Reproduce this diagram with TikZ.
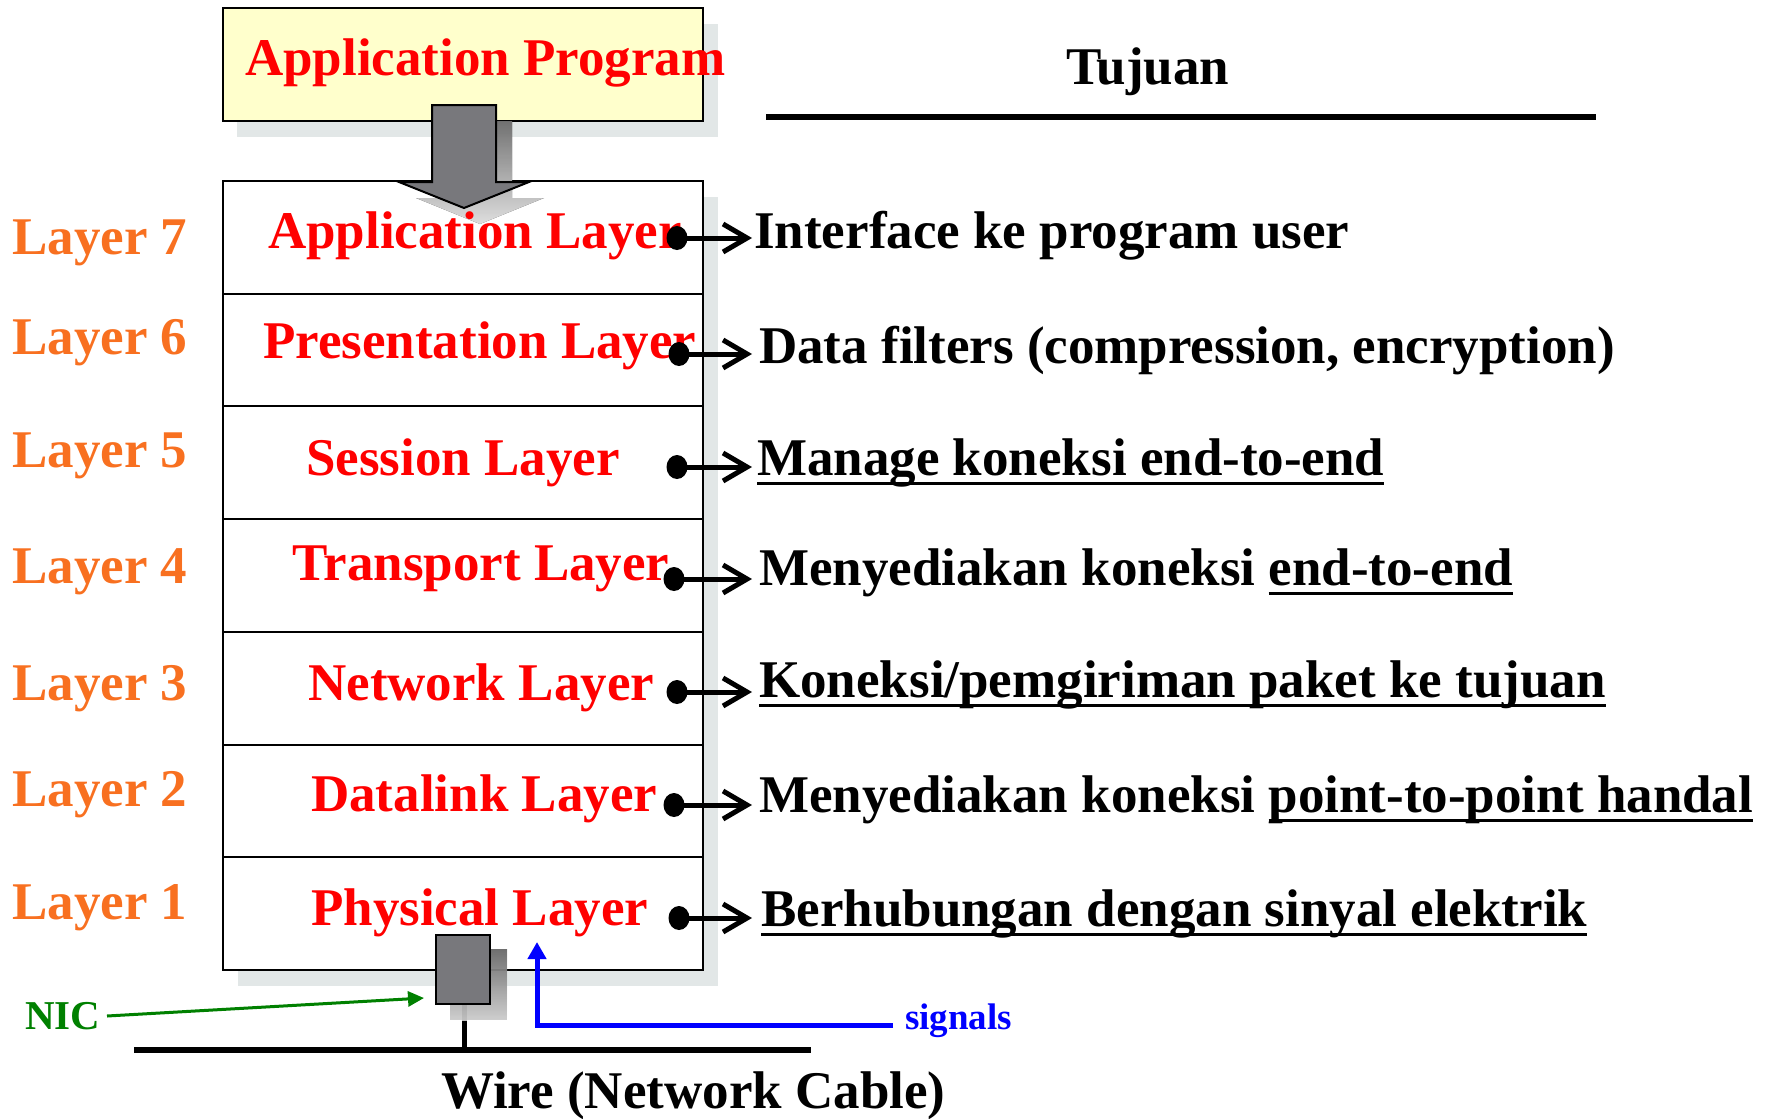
\documentclass[tikz,border=0pt]{standalone}
\usepackage{fontspec}
\setmainfont{Liberation Serif}
\usetikzlibrary{arrows.meta,shapes.geometric}
\definecolor{layerorange}{RGB}{248,112,32}
\definecolor{progyellow}{RGB}{255,255,204}
\definecolor{shade}{RGB}{226,231,231}
\definecolor{blockgray}{RGB}{120,120,124}
\definecolor{nicgreen}{RGB}{0,128,0}
\newlength\ulwidth
\newcommand\ulpart[1]{\settowidth\ulwidth{#1}\rlap{\rule[-9.5pt]{\ulwidth}{3pt}}#1}
\newcommand\bigfont{\fontsize{53}{60}\selectfont\bfseries}
\begin{document}
\begin{tikzpicture}[x=1pt,y=-1pt,
  txt/.style={inner sep=0pt, anchor=base west, font=\bigfont},
  layerlbl/.style={txt, text=layerorange},
  layername/.style={txt, text=red},
  purpose/.style={txt, text=black},
  rowbox/.style={draw, line width=2pt, fill=white, anchor=north west,
    minimum width=480pt, minimum height=112.7pt, inner sep=0pt},
  dot/.style={ellipse, fill=black, inner sep=0pt, minimum width=21pt, minimum height=24pt},
  link/.style={line width=5pt, -{Straight Barb[length=24pt,width=28pt,line width=5pt]}},
  shadowbox/.style={fill=shade}
]
\useasboundingbox (0,0) rectangle (1775,1119);

% drop shadows of the two boxes
\fill[shadowbox] (238,197) rectangle (718,986);
\fill[shadowbox] (237,24) rectangle (718,137);

% application program box
\node[draw, line width=2pt, fill=progyellow, anchor=north west, inner sep=0pt,
  minimum width=480pt, minimum height=113pt] (prog) at (222,7) {};
\node[txt, text=red] (progtxt) at (245,75) {Application Program};

% protocol stack rows
\foreach \i/\t in {7/180,6/292.7,5/405.4,4/518.1,3/630.8,2/743.5,1/856.2}
  \node[rowbox] (row\i) at (222,\t) {};

% block arrow from program into the stack
\fill[shade, opacity=0.85] (448,121) -- (512,121) -- (512,198) -- (544,198) -- (480,224)
  -- (416,198) -- (448,198) -- cycle;
\draw[line width=2pt, fill=blockgray, line join=miter] (432,105) -- (496,105) -- (496,182)
  -- (529,182) -- (464,208) -- (399,182) -- (432,182) -- cycle;

% NIC with its stub to the wire
\coordinate (stubtop) at (464,1003);
\coordinate (stubbot) at (464,1050);
\draw[line width=5pt] (stubtop) -- (stubbot);
\fill[shade, opacity=0.75] (450,949) rectangle (507,1020);
\node[draw, line width=2pt, fill=blockgray, anchor=north west, inner sep=0pt,
  minimum width=54pt, minimum height=69pt] (nicbox) at (435,934) {};

% layer numbers
\node[layerlbl] (l7) at (12,254) {Layer 7};
\node[layerlbl] (l6) at (12,354) {Layer 6};
\node[layerlbl] (l5) at (12,467) {Layer 5};
\node[layerlbl] (l4) at (12,583) {Layer 4};
\node[layerlbl] (l3) at (12,700) {Layer 3};
\node[layerlbl] (l2) at (12,806) {Layer 2};
\node[layerlbl] (l1) at (12,919) {Layer 1};

% layer names
\node[layername] (n7) at (268,248) {Application Layer};
\node[layername] (n6) at (263,358) {Presentation Layer};
\node[layername] (n5) at (306,475) {Session Layer};
\node[layername] (n4) at (292,580) {Transport Layer};
\node[layername] (n3) at (308,700) {Network Layer};
\node[layername] (n2) at (311,811) {Datalink Layer};
\node[layername] (n1) at (311,925) {Physical Layer};

% purposes
\node[txt] (tujuan) at (1066,84) {Tujuan};
\coordinate (rulel) at (766,117);
\coordinate (ruler) at (1596,117);
\draw[line width=6pt] (rulel) -- (ruler);

\node[purpose] (p7) at (754,248) {Interface ke program user};
\node[purpose] (p6) at (759,363) {Data filters (compression, encryption)};
\node[purpose] (p5) at (757,475) {\ulpart{Manage koneksi end-to-end}};
\node[purpose] (p4) at (759,585) {Menyediakan koneksi \ulpart{end-to-end}};
\node[purpose] (p3) at (759,697) {\ulpart{Koneksi/pemgiriman paket ke tujuan}};
\node[purpose] (p2) at (759,812) {Menyediakan koneksi \ulpart{point-to-point handal}};
\node[purpose] (p1) at (761,926) {\ulpart{Berhubungan dengan sinyal elektrik}};

% dots and arrows pointing to the purposes
\foreach \i/\x/\y in {7/677/238,6/679/354,5/677/467,4/674/579,3/677/692,2/674/805,1/679/918}{
  \node[dot] (d\i) at (\x,\y) {};
  \coordinate (a\i) at (752,\y);
  \draw[link] (d\i.center) -- (a\i);
}

% network cable
\coordinate (wirel) at (134,1050);
\coordinate (wirer) at (811,1050);
\draw[line width=6pt] (wirel) -- (wirer);
\node[txt] (wire) at (441,1108) {Wire (Network Cable)};

% NIC label
\node[inner sep=0pt, anchor=base west, font=\fontsize{41}{46}\selectfont\bfseries,
  text=nicgreen] (nic) at (25,1029) {NIC};
\coordinate (nicfrom) at (107,1016);
\coordinate (nicto) at (424,998);
\draw[nicgreen, line width=3pt, -{Triangle[length=16pt,width=15pt]}] (nicfrom) -- (nicto);

% signals label
\node[inner sep=0pt, anchor=base west, font=\fontsize{37}{42}\selectfont\bfseries,
  text=blue] (sig) at (905,1029) {signals};
\coordinate (sigstart) at (893,1025);
\coordinate (sigtip) at (537,942);
\draw[blue, line width=5pt, line join=miter, -{Triangle[length=17pt,width=18pt]}]
  (sigstart) -| (sigtip);
\end{tikzpicture}
\end{document}
